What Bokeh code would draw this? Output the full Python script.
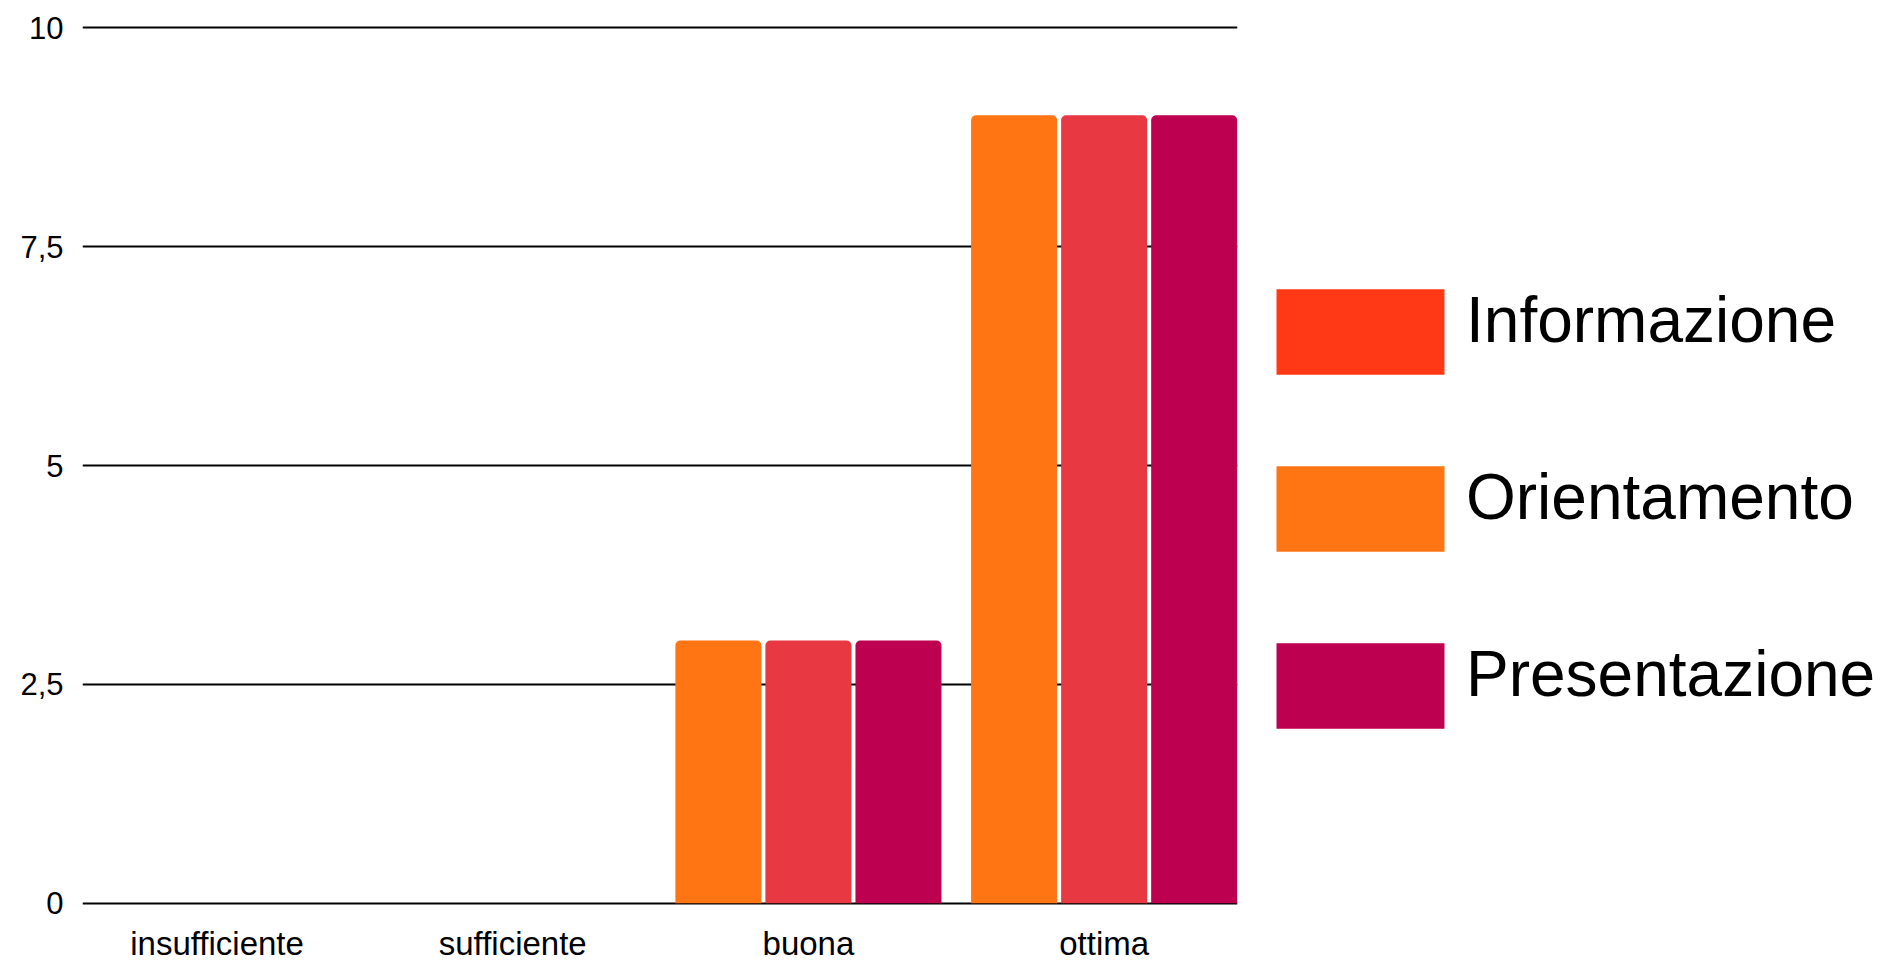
from bokeh.plotting import figure
from bokeh.layouts import row
from bokeh.models import Range1d, FixedTicker, ColumnDataSource, Legend, LegendItem
from bokeh.transform import dodge
from bokeh.embed import file_html
from bokeh.resources import INLINE

# ---- data ----
categories = ["insufficiente", "sufficiente", "buona", "ottima"]
informazione = [0, 0, 3, 9]
orientamento = [0, 0, 3, 9]
presentazione = [0, 0, 3, 9]
series_names = ["Informazione", "Orientamento", "Presentazione"]
bar_colors = ["#FF7514", "#E83841", "#BD0050"]
legend_colors = ["#FF3816", "#FF7514", "#BD0050"]
y_ticks = [0, 2.5, 5, 7.5, 10]
y_tick_labels = ["0", "2,5", "5", "7,5", "10"]

x_pos = [i + 0.5 for i in range(len(categories))]
source = ColumnDataSource(dict(
    x=x_pos,
    Informazione=informazione,
    Orientamento=orientamento,
    Presentazione=presentazione,
))

FONT = "Liberation Sans"
TOTAL_W, TOTAL_H = 1886, 964
MAIN_W = 1240

p = figure(
    width=MAIN_W, height=TOTAL_H,
    x_range=Range1d(0.045, 3.951), y_range=Range1d(-0.025, 10.025),
    output_backend="svg", toolbar_location=None,
    min_border_left=82, min_border_right=3,
    min_border_top=25, min_border_bottom=50,
)
p.outline_line_color = None
p.background_fill_color = "white"
p.border_fill_color = "white"

# grid
p.xgrid.visible = False
p.ygrid.ticker = FixedTicker(ticks=y_ticks)
p.ygrid.grid_line_color = "black"
p.ygrid.grid_line_width = 2

# y axis
p.yaxis.ticker = FixedTicker(ticks=y_ticks)
p.yaxis.major_label_overrides = {t: l for t, l in zip(y_ticks, y_tick_labels)}
p.yaxis.axis_line_color = None
p.yaxis.major_tick_line_color = None
p.yaxis.minor_tick_line_color = None
p.yaxis.major_tick_out = 0
p.yaxis.major_tick_in = 0
p.yaxis.major_label_standoff = 19
p.yaxis.major_label_text_font = FONT
p.yaxis.major_label_text_font_size = "31px"
p.yaxis.major_label_text_color = "black"

# x axis
p.xaxis.ticker = FixedTicker(ticks=x_pos)
p.xaxis.major_label_overrides = {t: c for t, c in zip(x_pos, categories)}
p.xaxis.axis_line_color = None
p.xaxis.major_tick_line_color = None
p.xaxis.minor_tick_line_color = None
p.xaxis.major_tick_out = 0
p.xaxis.major_tick_in = 0
p.xaxis.major_label_standoff = 19
p.xaxis.major_label_text_font = FONT
p.xaxis.major_label_text_font_size = "33px"
p.xaxis.major_label_text_color = "black"

# bars
offsets = [-0.3045, 0.0, 0.3045]
for name, color, off in zip(series_names, bar_colors, offsets):
    p.vbar(x=dodge("x", off), top=name, width=0.291, source=source,
           fill_color=color, line_color=None, border_radius=(5, 5, 0, 0))

# legend panel (own swatch colours, as in the reference)
lg = figure(
    width=TOTAL_W - MAIN_W, height=TOTAL_H,
    x_range=Range1d(0, 1), y_range=Range1d(0, 1),
    x_axis_type=None, y_axis_type=None,
    output_backend="svg", toolbar_location=None,
    min_border=0, min_border_left=0, min_border_right=0,
    min_border_top=0, min_border_bottom=0,
)
lg.outline_line_color = None
lg.xgrid.visible = False
lg.ygrid.visible = False
lg.background_fill_color = "white"
lg.border_fill_color = "white"

swatch_items = []
label_items = []
for name, color in zip(series_names, legend_colors):
    r = lg.vbar(x=x_pos, top=0, bottom=0, width=0, fill_color=color, line_color=None)
    swatch_items.append(LegendItem(label="", renderers=[r]))
    r2 = lg.vbar(x=x_pos, top=0, bottom=0, width=0, fill_alpha=0, line_alpha=0)
    label_items.append(LegendItem(label=name, renderers=[r2]))

common = dict(
    orientation="vertical", glyph_width=210, glyph_height=107, spacing=70,
    padding=0, margin=0, label_standoff=1,
    label_text_font=FONT, label_text_font_size="64px", label_text_color="black",
    border_line_color=None, background_fill_alpha=0,
)
swatches = Legend(items=swatch_items, location=(15, 166), **common)
labels = Legend(items=label_items, location=(15, 178), **common)
lg.add_layout(swatches)
lg.add_layout(labels)

layout = row(p, lg, spacing=0)
open("out.html", "w").write(file_html(layout, INLINE))
